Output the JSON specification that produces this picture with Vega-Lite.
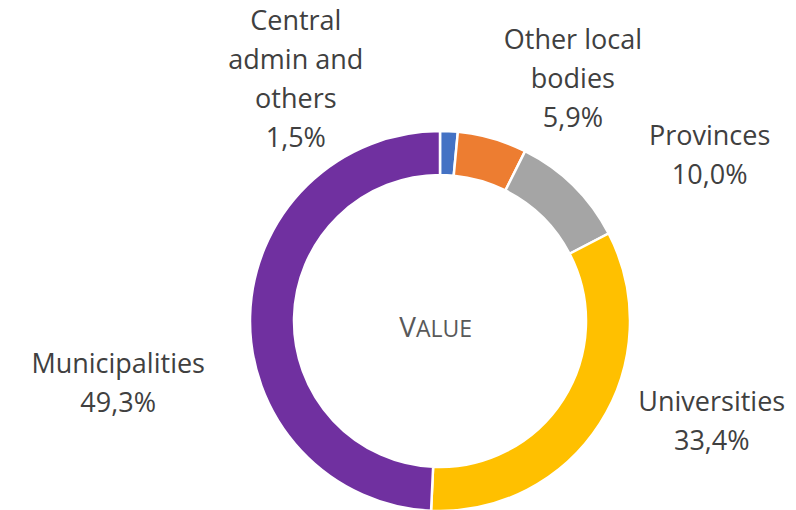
{
  "$schema": "https://vega.github.io/schema/vega-lite/v6.json",
  "width": 880,
  "height": 642,
  "autosize": {"type": "none"},
  "padding": 0,
  "background": "white",
  "config": {"view": {"stroke": null}, "text": {"font": "Open Sans"}},
  "data": {
    "values": [
      {"category": "Central admin and others", "label": "Central\nadmin and\nothers", "value": 1.5},
      {"category": "Other local bodies", "label": "Other local\nbodies", "value": 5.9},
      {"category": "Provinces", "label": "Provinces", "value": 10.0},
      {"category": "Universities", "label": "Universities", "value": 33.4},
      {"category": "Municipalities", "label": "Municipalities", "value": 49.3}
    ]
  },
  "transform": [
    {"window": [{"op": "row_number", "as": "idx"}]},
    {"calculate": "datum.label + '\\n' + replace(format(datum.value, '.1f'), '.', ',') + '%'", "as": "fullLabel"}
  ],
  "layer": [
    {
      "mark": {"type": "arc", "outerRadius": 190, "innerRadius": 146, "stroke": "white", "strokeWidth": 2.5},
      "encoding": {
        "theta": {"field": "value", "type": "quantitative", "stack": true},
        "order": {"field": "idx", "type": "quantitative"},
        "color": {
          "field": "category", "type": "nominal", "legend": null,
          "scale": {
            "domain": ["Central admin and others", "Other local bodies", "Provinces", "Universities", "Municipalities"],
            "range": ["#4472C4", "#ED7D31", "#A5A5A5", "#FFC000", "#7030A0"]
          }
        }
      }
    },
    {
      "mark": {"type": "text", "fontSize": 27, "lineHeight": 39, "lineBreak": "\n", "align": "center", "baseline": "middle", "color": "#404040", "thetaOffset": -0.588, "dy": -58.5},
      "encoding": {
        "theta": {"field": "value", "type": "quantitative", "stack": true},
        "order": {"field": "idx", "type": "quantitative"},
        "detail": {"field": "category"},
        "radius": {"value": 280},
        "text": {"condition": {"test": "datum.category === 'Central admin and others'", "field": "fullLabel"}, "value": ""}
      }
    },
    {
      "mark": {"type": "text", "fontSize": 27, "lineHeight": 39, "lineBreak": "\n", "align": "center", "baseline": "middle", "color": "#404040", "thetaOffset": 0.225, "dy": -39},
      "encoding": {
        "theta": {"field": "value", "type": "quantitative", "stack": true},
        "order": {"field": "idx", "type": "quantitative"},
        "detail": {"field": "category"},
        "radius": {"value": 275},
        "text": {"condition": {"test": "datum.category === 'Other local bodies'", "field": "fullLabel"}, "value": ""}
      }
    },
    {
      "mark": {"type": "text", "fontSize": 27, "lineHeight": 39, "lineBreak": "\n", "align": "center", "baseline": "middle", "color": "#404040", "thetaOffset": 0.244, "dy": -19.5},
      "encoding": {
        "theta": {"field": "value", "type": "quantitative", "stack": true},
        "order": {"field": "idx", "type": "quantitative"},
        "detail": {"field": "category"},
        "radius": {"value": 316},
        "text": {"condition": {"test": "datum.category === 'Provinces'", "field": "fullLabel"}, "value": ""}
      }
    },
    {
      "mark": {"type": "text", "fontSize": 27, "lineHeight": 39, "lineBreak": "\n", "align": "center", "baseline": "middle", "color": "#404040", "thetaOffset": -0.213, "dy": -19.5},
      "encoding": {
        "theta": {"field": "value", "type": "quantitative", "stack": true},
        "order": {"field": "idx", "type": "quantitative"},
        "detail": {"field": "category"},
        "radius": {"value": 290},
        "text": {"condition": {"test": "datum.category === 'Universities'", "field": "fullLabel"}, "value": ""}
      }
    },
    {
      "mark": {"type": "text", "fontSize": 27, "lineHeight": 39, "lineBreak": "\n", "align": "center", "baseline": "middle", "color": "#404040", "thetaOffset": -0.218, "dy": -19.5},
      "encoding": {
        "theta": {"field": "value", "type": "quantitative", "stack": true},
        "order": {"field": "idx", "type": "quantitative"},
        "detail": {"field": "category"},
        "radius": {"value": 328},
        "text": {"condition": {"test": "datum.category === 'Municipalities'", "field": "fullLabel"}, "value": ""}
      }
    },
    {
      "data": {"values": [{"t": "V"}]},
      "mark": {"type": "text", "fontSize": 28, "align": "right", "baseline": "alphabetic", "color": "#595959", "dx": -24, "dy": 16},
      "encoding": {"text": {"field": "t"}}
    },
    {
      "data": {"values": [{"t": "ALUE"}]},
      "mark": {"type": "text", "fontSize": 23, "align": "left", "baseline": "alphabetic", "color": "#595959", "dx": -24, "dy": 16},
      "encoding": {"text": {"field": "t"}}
    }
  ]
}
